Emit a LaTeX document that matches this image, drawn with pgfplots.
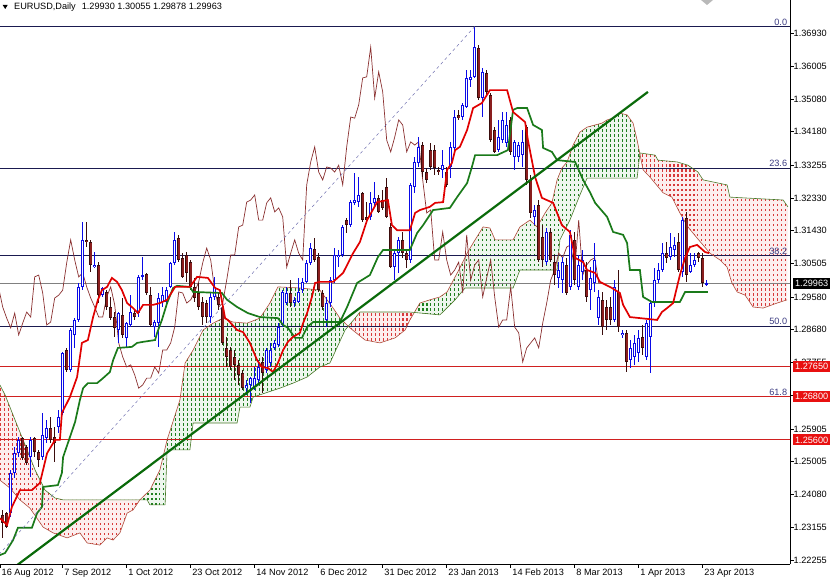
\documentclass[border=0pt]{standalone}
\usepackage{pgfplots}
\pgfplotsset{compat=1.18}
\usepackage{pgfplotstable}
\usepgfplotslibrary{fillbetween}
\usetikzlibrary{patterns}
\usepackage{fontspec}
\setmainfont{Liberation Sans}
\newcommand\tl{\fontsize{9.2}{11}\selectfont}

\definecolor{bull}{HTML}{0A0AE6}
\definecolor{bear}{HTML}{8A1E1E}
\definecolor{bearwick}{HTML}{3A0C0C}
\definecolor{tenkan}{HTML}{E00000}
\definecolor{kijun}{HTML}{1A7A1A}
\definecolor{chikou}{HTML}{8A3030}
\definecolor{spanA}{HTML}{B04A3A}
\definecolor{spanB}{HTML}{4A7A2A}
\definecolor{fib}{HTML}{1A1A50}
\definecolor{fibtxt}{HTML}{3A3A80}
\definecolor{hline}{HTML}{D02020}
\definecolor{trend}{HTML}{0A6A0A}
\definecolor{dashln}{HTML}{7070B0}
\definecolor{cloudred}{HTML}{D83A3A}
\definecolor{cloudgreen}{HTML}{1F7F1F}
\definecolor{cloudredbg}{HTML}{FCEEEE}
\definecolor{cloudgreenbg}{HTML}{EEF6EE}
\definecolor{labred}{HTML}{E81010}

\pgfdeclarepatternformonly{vdots}{\pgfqpoint{-0.5pt}{-0.5pt}}{\pgfqpoint{4.5pt}{5.5pt}}{\pgfqpoint{4pt}{5pt}}{%
  \pgfpathrectangle{\pgfqpoint{0pt}{0pt}}{\pgfqpoint{1.1pt}{2.6pt}}\pgfusepath{fill}}

\pgfplotstableread{
i o h l c
0 1.2351 1.2365 1.2287 1.2328
1 1.2356 1.2359 1.2315 1.2317
2 1.2356 1.2476 1.2345 1.2468
3 1.2468 1.2540 1.2454 1.2523
4 1.2523 1.2568 1.2512 1.2560
5 1.2565 1.2568 1.2504 1.2510
6 1.2540 1.2546 1.2490 1.2496
7 1.2512 1.2568 1.2457 1.2560
8 1.2565 1.2568 1.2512 1.2526
9 1.2526 1.2532 1.2484 1.2504
10 1.2512 1.2635 1.2504 1.2574
11 1.2565 1.2615 1.2551 1.2593
12 1.2593 1.2624 1.2551 1.2560
13 1.2568 1.2596 1.2498 1.2551
14 1.2596 1.2643 1.2579 1.2624
15 1.2635 1.2805 1.2629 1.2802
16 1.2810 1.2816 1.2749 1.2755
17 1.2755 1.2872 1.2749 1.2866
18 1.2852 1.2899 1.2816 1.2894
19 1.2894 1.2997 1.2888 1.2986
20 1.2986 1.3167 1.2977 1.3117
21 1.3117 1.3167 1.3097 1.3111
22 1.3111 1.3117 1.3027 1.3047
23 1.3041 1.3083 1.3039 1.3047
24 1.3047 1.3055 1.2941 1.2963
25 1.2963 1.2986 1.2958 1.2983
26 1.2972 1.2977 1.2922 1.2930
27 1.2930 1.2958 1.2894 1.2899
28 1.2902 1.2916 1.2847 1.2872
29 1.2866 1.2916 1.2830 1.2913
30 1.2908 1.2955 1.2844 1.2852
31 1.2844 1.2888 1.2816 1.2885
32 1.2880 1.2963 1.2874 1.2916
33 1.2913 1.2922 1.2894 1.2902
34 1.2913 1.3019 1.2902 1.3014
35 1.3014 1.3069 1.3005 1.3019
36 1.3022 1.3025 1.2963 1.2969
37 1.2963 1.2986 1.2874 1.2880
38 1.2874 1.2894 1.2847 1.2888
39 1.2885 1.2969 1.2819 1.2955
40 1.2944 1.2986 1.2930 1.2963
41 1.2944 1.2986 1.2930 1.2977
42 1.2986 1.3055 1.2983 1.3053
43 1.3053 1.3139 1.3047 1.3117
44 1.3122 1.3131 1.3055 1.3061
45 1.3067 1.3080 1.3011 1.3014
46 1.3075 1.3083 1.3000 1.3025
47 1.3055 1.3061 1.2977 1.2986
48 1.2986 1.3011 1.2944 1.2955
49 1.2969 1.2997 1.2922 1.2930
50 1.2944 1.2958 1.2880 1.2902
51 1.2941 1.2950 1.2885 1.2902
52 1.2902 1.2969 1.2885 1.2958
53 1.2958 1.3014 1.2950 1.2986
54 1.2958 1.2969 1.2922 1.2936
55 1.2930 1.2944 1.2824 1.2830
56 1.2816 1.2847 1.2763 1.2791
57 1.2810 1.2819 1.2755 1.2763
58 1.2791 1.2810 1.2727 1.2769
59 1.2769 1.2782 1.2713 1.2741
60 1.2746 1.2755 1.2699 1.2704
61 1.2704 1.2727 1.2685 1.2713
62 1.2713 1.2735 1.2663 1.2732
63 1.2707 1.2763 1.2699 1.2732
64 1.2727 1.2782 1.2713 1.2763
65 1.2777 1.2791 1.2691 1.2746
66 1.2755 1.2816 1.2746 1.2810
67 1.2774 1.2830 1.2763 1.2810
68 1.2816 1.2838 1.2810 1.2830
69 1.2824 1.2885 1.2819 1.2874
70 1.2880 1.2977 1.2874 1.2972
71 1.2941 1.2986 1.2936 1.2969
72 1.2969 1.3005 1.2930 1.2941
73 1.2941 1.2958 1.2930 1.2950
74 1.2944 1.3011 1.2941 1.2972
75 1.2977 1.3011 1.2969 1.3000
76 1.3000 1.3061 1.2997 1.3053
77 1.3053 1.3108 1.3047 1.3094
78 1.3092 1.3122 1.3055 1.3061
79 1.3069 1.3080 1.2972 1.2977
80 1.2969 1.2977 1.2922 1.2930
81 1.2894 1.2958 1.2874 1.2941
82 1.2941 1.3014 1.2930 1.3005
83 1.3005 1.3094 1.2997 1.3075
84 1.3069 1.3089 1.3041 1.3075
85 1.3075 1.3158 1.3069 1.3153
86 1.3172 1.3178 1.3136 1.3158
87 1.3158 1.3228 1.3153 1.3222
88 1.3220 1.3303 1.3214 1.3228
89 1.3222 1.3292 1.3209 1.3242
90 1.3248 1.3250 1.3167 1.3172
91 1.3181 1.3222 1.3164 1.3172
92 1.3181 1.3250 1.3172 1.3220
93 1.3220 1.3278 1.3209 1.3234
94 1.3234 1.3242 1.3192 1.3195
95 1.3228 1.3256 1.3200 1.3206
96 1.3264 1.3289 1.3178 1.3181
97 1.3153 1.3164 1.3039 1.3041
98 1.3041 1.3089 1.3005 1.3080
99 1.3080 1.3125 1.3025 1.3117
100 1.3117 1.3139 1.3067 1.3080
101 1.3080 1.3089 1.3039 1.3061
102 1.3061 1.3275 1.3053 1.3270
103 1.3264 1.3348 1.3248 1.3334
104 1.3331 1.3403 1.3320 1.3376
105 1.3381 1.3390 1.3292 1.3306
106 1.3306 1.3317 1.3275 1.3284
107 1.3367 1.3387 1.3312 1.3320
108 1.3367 1.3381 1.3298 1.3317
109 1.3312 1.3320 1.3298 1.3306
110 1.3312 1.3367 1.3289 1.3325
111 1.3306 1.3320 1.3264 1.3270
112 1.3320 1.3390 1.3289 1.3376
113 1.3373 1.3479 1.3367 1.3459
114 1.3465 1.3479 1.3451 1.3456
115 1.3459 1.3498 1.3451 1.3493
116 1.3487 1.3590 1.3484 1.3568
117 1.3562 1.3590 1.3543 1.3571
118 1.3571 1.3710 1.3568 1.3654
119 1.3651 1.3660 1.3507 1.3512
120 1.3512 1.3596 1.3459 1.3585
121 1.3582 1.3590 1.3515 1.3529
122 1.3520 1.3526 1.3390 1.3395
123 1.3423 1.3431 1.3359 1.3362
124 1.3367 1.3451 1.3362 1.3403
125 1.3395 1.3473 1.3387 1.3451
126 1.3387 1.3473 1.3376 1.3437
127 1.3451 1.3459 1.3353 1.3362
128 1.3348 1.3395 1.3312 1.3390
129 1.3348 1.3390 1.3334 1.3381
130 1.3353 1.3423 1.3320 1.3390
131 1.3431 1.3437 1.3270 1.3284
132 1.3284 1.3298 1.3178 1.3192
133 1.3181 1.3214 1.3158 1.3200
134 1.3214 1.3228 1.3055 1.3061
135 1.3125 1.3158 1.3041 1.3061
136 1.3055 1.3150 1.3047 1.3139
137 1.3139 1.3150 1.3055 1.3061
138 1.3055 1.3075 1.2991 1.3019
139 1.3011 1.3055 1.2983 1.3033
140 1.3005 1.3069 1.2969 1.3055
141 1.3047 1.3067 1.2963 1.2969
142 1.2986 1.3144 1.2977 1.3131
143 1.3117 1.3139 1.2991 1.3005
144 1.2986 1.3075 1.2977 1.3047
145 1.3027 1.3089 1.3005 1.3061
146 1.3033 1.3055 1.2944 1.2958
147 1.2977 1.3041 1.2922 1.3011
148 1.2997 1.3108 1.2972 1.3061
149 1.2899 1.2977 1.2880 1.2958
150 1.2950 1.2972 1.2852 1.2874
151 1.2930 1.2950 1.2866 1.2894
152 1.2930 1.2958 1.2880 1.2894
153 1.2894 1.3005 1.2888 1.2986
154 1.2972 1.3033 1.2860 1.2874
155 1.2852 1.2866 1.2844 1.2858
156 1.2858 1.2866 1.2749 1.2777
157 1.2782 1.2838 1.2760 1.2816
158 1.2791 1.2852 1.2769 1.2830
159 1.2802 1.2866 1.2777 1.2844
160 1.2847 1.2880 1.2796 1.2816
161 1.2791 1.2894 1.2782 1.2885
162 1.2847 1.2950 1.2746 1.2941
163 1.2941 1.3039 1.2930 1.3005
164 1.3005 1.3053 1.2997 1.3033
165 1.3033 1.3108 1.3027 1.3080
166 1.3080 1.3111 1.3053 1.3067
167 1.3069 1.3136 1.3061 1.3097
168 1.3089 1.3125 1.3069 1.3103
169 1.3111 1.3136 1.3027 1.3033
170 1.3027 1.3181 1.3014 1.3172
171 1.3178 1.3195 1.3000 1.3019
172 1.3027 1.3080 1.3025 1.3047
173 1.3047 1.3080 1.3041 1.3061
174 1.3080 1.3083 1.3055 1.3067
175 1.3067 1.3080 1.2986 1.2997
176 1.29930 1.30055 1.29878 1.29963
}\candles

\pgfplotstableread{
x y
-0.7 1.2342
1.1 1.2323
2.3 1.2373
4.3 1.2420
7.3 1.2420
9.3 1.2440
11.1 1.2523
13.1 1.2560
14.3 1.2560
14.8 1.2635
16.8 1.2679
18.6 1.2735
19.8 1.2830
21.3 1.2838
22.6 1.2902
23.8 1.2950
24.8 1.2977
26.1 1.2986
27.3 1.3011
28.6 1.3000
29.8 1.2977
31.1 1.2941
32.6 1.2927
33.8 1.2913
35.1 1.2936
37.6 1.2936
39.3 1.2941
41.1 1.2950
43.1 1.2986
46.8 1.2986
48.6 1.3014
51.3 1.3011
53.1 1.2983
54.3 1.2977
55.6 1.2899
56.3 1.2894
58.6 1.2866
60.1 1.2860
61.8 1.2830
63.6 1.2782
64.8 1.2763
66.3 1.2760
67.6 1.2749
68.8 1.2774
70.1 1.2810
71.3 1.2833
72.6 1.2847
74.3 1.2858
75.1 1.2885
76.1 1.2913
77.3 1.2958
78.1 1.2997
79.3 1.3000
82.6 1.3000
85.1 1.3025
87.6 1.3080
89.3 1.3111
91.1 1.3172
93.6 1.3222
96.3 1.3228
97.3 1.3158
98.6 1.3144
101.8 1.3144
103.1 1.3192
104.3 1.3200
106.8 1.3209
108.1 1.3220
110.1 1.3222
111.1 1.3312
112.3 1.3331
113.1 1.3367
114.3 1.3376
116.1 1.3423
117.6 1.3484
119.8 1.3498
121.8 1.3534
126.1 1.3534
127.6 1.3473
130.6 1.3445
131.3 1.3395
133.1 1.3292
134.8 1.3234
137.6 1.3220
139.8 1.3158
141.8 1.3139
143.1 1.3067
145.1 1.3055
146.1 1.3033
148.1 1.3025
149.3 1.3000
152.3 1.2983
154.3 1.2969
155.1 1.2936
156.8 1.2902
163.6 1.2894
164.8 1.2916
166.1 1.2927
167.6 1.2941
169.3 1.3019
170.6 1.3067
171.8 1.3097
173.6 1.3103
175.6 1.3083
176.6 1.3080
}\tenkan

\pgfplotstableread{
x y
-0.7 1.2239
0.6 1.2245
2.6 1.2281
3.8 1.2315
7.3 1.2315
8.6 1.2356
9.8 1.2373
10.1 1.2429
13.8 1.2434
14.8 1.2468
15.1 1.2512
16.3 1.2551
18.1 1.2610
19.3 1.2671
20.1 1.2704
21.3 1.2718
23.6 1.2718
25.1 1.2732
26.8 1.2749
27.6 1.2782
28.8 1.2816
32.3 1.2819
33.6 1.2830
35.1 1.2833
38.1 1.2838
38.6 1.2858
39.8 1.2894
41.1 1.2941
42.6 1.2983
43.6 1.2989
46.8 1.2986
47.6 1.2972
54.8 1.2969
56.1 1.2950
58.6 1.2930
61.3 1.2913
64.3 1.2902
68.8 1.2899
70.1 1.2880
71.3 1.2872
73.1 1.2844
74.8 1.2844
76.1 1.2874
77.6 1.2888
84.3 1.2888
86.1 1.2930
88.6 1.2997
91.8 1.3019
93.8 1.3069
95.1 1.3089
101.8 1.3089
103.6 1.3136
105.1 1.3158
107.6 1.3200
111.8 1.3206
113.6 1.3236
116.1 1.3275
117.3 1.3320
118.1 1.3353
123.6 1.3353
126.3 1.3367
127.6 1.3479
128.6 1.3484
131.1 1.3484
132.6 1.3437
134.8 1.3423
135.1 1.3373
137.3 1.3362
138.6 1.3339
143.1 1.3334
145.1 1.3284
146.8 1.3250
148.1 1.3220
151.1 1.3181
152.6 1.3139
155.1 1.3131
156.1 1.3108
156.8 1.3033
159.3 1.3033
160.1 1.2958
162.3 1.2944
169.3 1.2944
170.6 1.2972
176.3 1.2972
}\kijun

\pgfplotstableread{
x y
-0.7 1.2448
1.8 1.2426
4.3 1.2393
6.8 1.2370
10.1 1.2317
12.6 1.2301
16.1 1.2287
19.3 1.2301
21.1 1.2273
24.3 1.2267
26.1 1.2287
27.6 1.2281
29.3 1.2301
31.1 1.2356
32.6 1.2365
34.3 1.2393
36.8 1.2420
39.3 1.2476
41.1 1.2560
44.3 1.2671
45.6 1.2774
47.6 1.2810
50.1 1.2866
52.6 1.2885
55.1 1.2899
57.6 1.2888
61.1 1.2885
64.3 1.2899
66.8 1.2941
68.8 1.2986
74.3 1.2983
79.3 1.2977
82.6 1.2927
84.3 1.2899
86.8 1.2872
90.6 1.2838
94.3 1.2830
98.1 1.2844
100.6 1.2866
101.8 1.2894
104.3 1.2941
106.8 1.2950
109.3 1.2958
111.1 1.2972
114.3 1.3039
116.1 1.3080
117.6 1.3108
120.1 1.3153
121.8 1.3150
123.1 1.3117
127.6 1.3117
129.3 1.3153
131.8 1.3172
133.6 1.3153
135.6 1.3192
137.3 1.3220
138.6 1.3284
139.8 1.3317
141.1 1.3334
142.6 1.3381
144.3 1.3417
146.1 1.3431
149.8 1.3442
151.1 1.3451
152.6 1.3456
154.3 1.3470
156.1 1.3465
157.6 1.3442
158.6 1.3395
160.1 1.3312
161.8 1.3292
165.1 1.3248
167.3 1.3236
169.3 1.3192
171.3 1.3153
173.6 1.3122
176.8 1.3080
179.3 1.3061
181.1 1.3041
182.3 1.2997
183.6 1.2972
185.6 1.2963
187.6 1.2930
190.1 1.2927
193.6 1.2941
196.1 1.2950
}\spanA

\pgfplotstableread{
x y
-0.7 1.2713
0.6 1.2685
3.1 1.2615
5.6 1.2546
8.1 1.2476
10.6 1.2420
13.1 1.2398
15.1 1.2393
36.1 1.2393
36.8 1.2379
40.6 1.2379
41.1 1.2532
46.8 1.2532
47.6 1.2607
58.6 1.2607
59.3 1.2651
61.8 1.2651
62.6 1.2679
69.3 1.2704
72.6 1.2718
76.1 1.2735
79.3 1.2763
81.8 1.2774
85.6 1.2866
88.1 1.2899
89.3 1.2916
101.8 1.2916
109.3 1.2908
113.1 1.2950
115.6 1.2983
127.6 1.2983
129.3 1.3033
138.6 1.3033
139.3 1.3117
141.8 1.3172
144.3 1.3242
146.1 1.3289
158.6 1.3289
159.3 1.3359
163.1 1.3353
163.8 1.3339
168.6 1.3334
171.3 1.3325
173.8 1.3306
175.1 1.3284
181.1 1.3270
181.8 1.3236
195.1 1.3228
196.3 1.3209
}\spanB

% one cloud segment: light tint plus dotted pattern
\newcommand\cloudseg[4]{%
  \addplot[fill=#3, draw=none] fill between[of=A and B, soft clip={(axis cs:#1,1.2) rectangle (axis cs:#2,1.4)}];
  \addplot[pattern=vdots, pattern color=#4, draw=none] fill between[of=A and B, soft clip={(axis cs:#1,1.2) rectangle (axis cs:#2,1.4)}];
}

\begin{document}
\begin{tikzpicture}
\begin{axis}[
  at={(0,0)}, anchor=south west,
  scale only axis, width=790bp, height=564bp,
  xmin=-0.675, xmax=196.825, ymin=1.22143, ymax=1.3785,
  axis x line*=bottom, axis y line*=right,
  axis line style={black, line width=0.8bp},
  xtick={-0.675,15,31,47,63,79,95,111,127,143,159,175},
  xticklabels={16 Aug 2012,7 Sep 2012,1 Oct 2012,23 Oct 2012,14 Nov 2012,6 Dec 2012,31 Dec 2012,23 Jan 2013,14 Feb 2013,8 Mar 2013,1 Apr 2013,23 Apr 2013},
  ytick={1.22255,1.23155,1.2408,1.25005,1.25905,1.2683,1.27755,1.2868,1.2958,1.30505,1.3143,1.3233,1.33255,1.3418,1.3508,1.36005,1.3693},
  yticklabels={1.22255,1.23155,1.24080,1.25005,1.25905,1.26830,1.27755,1.28680,1.29580,1.30505,1.31430,1.32330,1.33255,1.34180,1.35080,1.36005,1.36930},
  tick align=outside, major tick length=3.5bp,
  tick style={black, line width=0.6bp},
  ticklabel style={font=\tl, text=black},
  xticklabel style={anchor=north west, inner sep=0pt, xshift=1.5bp, yshift=-1.5bp},
  yticklabel style={anchor=west, inner sep=0pt},
]
% horizontal levels
\addplot[fib, line width=0.7bp] coordinates {(-1,1.3711) (197,1.3711)};
\addplot[fib, line width=0.7bp] coordinates {(-1,1.3317) (197,1.3317)};
\addplot[fib, line width=0.7bp] coordinates {(-1,1.3073) (197,1.3073)};
\addplot[fib, line width=0.7bp] coordinates {(-1,1.2877) (197,1.2877)};
\addplot[gray, line width=0.7bp] coordinates {(-1,1.29963) (197,1.29963)};
\addplot[hline, line width=0.8bp] coordinates {(-1,1.2765) (197,1.2765)};
\addplot[hline, line width=0.8bp] coordinates {(-1,1.2680) (197,1.2680)};
\addplot[hline, line width=0.8bp] coordinates {(-1,1.2560) (197,1.2560)};

% Ichimoku cloud (Senkou span A and B)
\addplot[name path=A, draw=none] table[x=x,y=y] {\spanA};
\addplot[name path=B, draw=none] table[x=x,y=y] {\spanB};
\cloudseg{-1}{34.5}{cloudredbg}{cloudred}
\cloudseg{34.5}{86}{cloudgreenbg}{cloudgreen}
\cloudseg{86}{103}{cloudredbg}{cloudred}
\cloudseg{103}{159.2}{cloudgreenbg}{cloudgreen}
\cloudseg{159.2}{197}{cloudredbg}{cloudred}
\addplot[spanA, line width=0.6bp] table[x=x,y=y] {\spanA};
\addplot[spanB, line width=0.6bp] table[x=x,y=y] {\spanB};

% chikou span
\addplot[chikou, line width=0.7bp] table[x expr=\thisrow{i}-26, y=c] {\candles};

% candles: wicks
\addplot[draw=none, mark=none, restrict expr to domain={\thisrow{c}-\thisrow{o}}{0:1},
  error bars/.cd, y dir=both, y explicit, error mark=none,
  error bar style={draw=bull, solid, line width=0.9bp}]
  table[x=i, y expr={0.5*(\thisrow{h}+\thisrow{l})}, y error expr={0.5*(\thisrow{h}-\thisrow{l})}] {\candles};
\addplot[draw=none, mark=none, restrict expr to domain={\thisrow{c}-\thisrow{o}}{-1:-0.000001},
  error bars/.cd, y dir=both, y explicit, error mark=none,
  error bar style={draw=bearwick, solid, line width=0.9bp}]
  table[x=i, y expr={0.5*(\thisrow{h}+\thisrow{l})}, y error expr={0.5*(\thisrow{h}-\thisrow{l})}] {\candles};
% bull bodies (blue outline, white inside)
\addplot[draw=none, mark=none, restrict expr to domain={\thisrow{c}-\thisrow{o}}{0:1},
  error bars/.cd, y dir=both, y explicit, error mark=none,
  error bar style={draw=bull, solid, line width=3.4bp}]
  table[x=i, y expr={0.5*(\thisrow{o}+\thisrow{c})}, y error expr={max(0.5*(\thisrow{c}-\thisrow{o}),0.00013)}] {\candles};
\addplot[draw=none, mark=none, restrict expr to domain={\thisrow{c}-\thisrow{o}}{0:1},
  error bars/.cd, y dir=both, y explicit, error mark=none,
  error bar style={draw=white, solid, line width=1.1bp}]
  table[x=i, y expr={0.5*(\thisrow{o}+\thisrow{c})}, y error expr={max(0.5*(\thisrow{c}-\thisrow{o})-0.00028,0)}] {\candles};
% bear bodies
\addplot[draw=none, mark=none, restrict expr to domain={\thisrow{c}-\thisrow{o}}{-1:-0.000001},
  error bars/.cd, y dir=both, y explicit, error mark=none,
  error bar style={draw=bearwick, solid, line width=3.4bp}]
  table[x=i, y expr={0.5*(\thisrow{o}+\thisrow{c})}, y error expr={max(0.5*(\thisrow{o}-\thisrow{c}),0.00013)}] {\candles};
\addplot[draw=none, mark=none, restrict expr to domain={\thisrow{c}-\thisrow{o}}{-1:-0.000001},
  error bars/.cd, y dir=both, y explicit, error mark=none,
  error bar style={draw=bear, solid, line width=1.8bp}]
  table[x=i, y expr={0.5*(\thisrow{o}+\thisrow{c})}, y error expr={max(0.5*(\thisrow{o}-\thisrow{c})-0.0002,0)}] {\candles};

% kijun and tenkan
\addplot[kijun, line width=1.7bp] table[x=x,y=y] {\kijun};
\addplot[tenkan, line width=1.7bp] table[x=x,y=y] {\tenkan};

% fibonacci diagonal and trend line
\addplot[dashln, line width=0.5bp, dash pattern=on 3bp off 3bp] coordinates {(-17,1.2042) (118,1.3711)};
\addplot[trend, line width=2.2bp] coordinates {(3.5,1.22103) (161.3,1.3529)};

% fibonacci labels
\node[anchor=south east, inner sep=1pt, font=\tl, text=fibtxt] at (axis cs:196.4,1.3711) {0.0};
\node[anchor=south east, inner sep=1pt, font=\tl, text=fibtxt] at (axis cs:196.4,1.3317) {23.6};
\node[anchor=south east, inner sep=1pt, font=\tl, text=fibtxt] at (axis cs:196.4,1.3073) {38.2};
\node[anchor=south east, inner sep=1pt, font=\tl, text=fibtxt] at (axis cs:196.4,1.2877) {50.0};
\node[anchor=south east, inner sep=1pt, font=\tl, text=fibtxt] at (axis cs:196.4,1.2680) {61.8};

\coordinate (bid) at (axis cs:196.825,1.29963);
\coordinate (r1) at (axis cs:196.825,1.2765);
\coordinate (r2) at (axis cs:196.825,1.2680);
\coordinate (r3) at (axis cs:196.825,1.2560);
\end{axis}
% price tags on the right scale
\node[fill=black, text=white, anchor=west, inner sep=0pt, minimum width=37bp, minimum height=11bp, font=\tl, xshift=3bp] at (bid) {1.29963};
\node[fill=labred, text=white, anchor=west, inner sep=0pt, minimum width=37bp, minimum height=11bp, font=\tl, xshift=3bp] at (r1) {1.27650};
\node[fill=labred, text=white, anchor=west, inner sep=0pt, minimum width=37bp, minimum height=11bp, font=\tl, xshift=3bp] at (r2) {1.26800};
\node[fill=labred, text=white, anchor=west, inner sep=0pt, minimum width=37bp, minimum height=11bp, font=\tl, xshift=3bp] at (r3) {1.25600};
% header
\fill[black] (2.7bp,559bp) -- (7.7bp,559bp) -- (5.2bp,555bp) -- cycle;
\node[anchor=base west, inner sep=0pt, font=\tl] at (14bp,554bp) {EURUSD,Daily\hspace{6bp}1.29930 1.30055 1.29878 1.29963};
\fill[gray!55] (701bp,564bp) -- (713bp,564bp) -- (707bp,559bp) -- cycle;
\pgfresetboundingbox
\useasboundingbox (0,-16bp) rectangle (830bp,564bp);
\end{tikzpicture}
\end{document}
